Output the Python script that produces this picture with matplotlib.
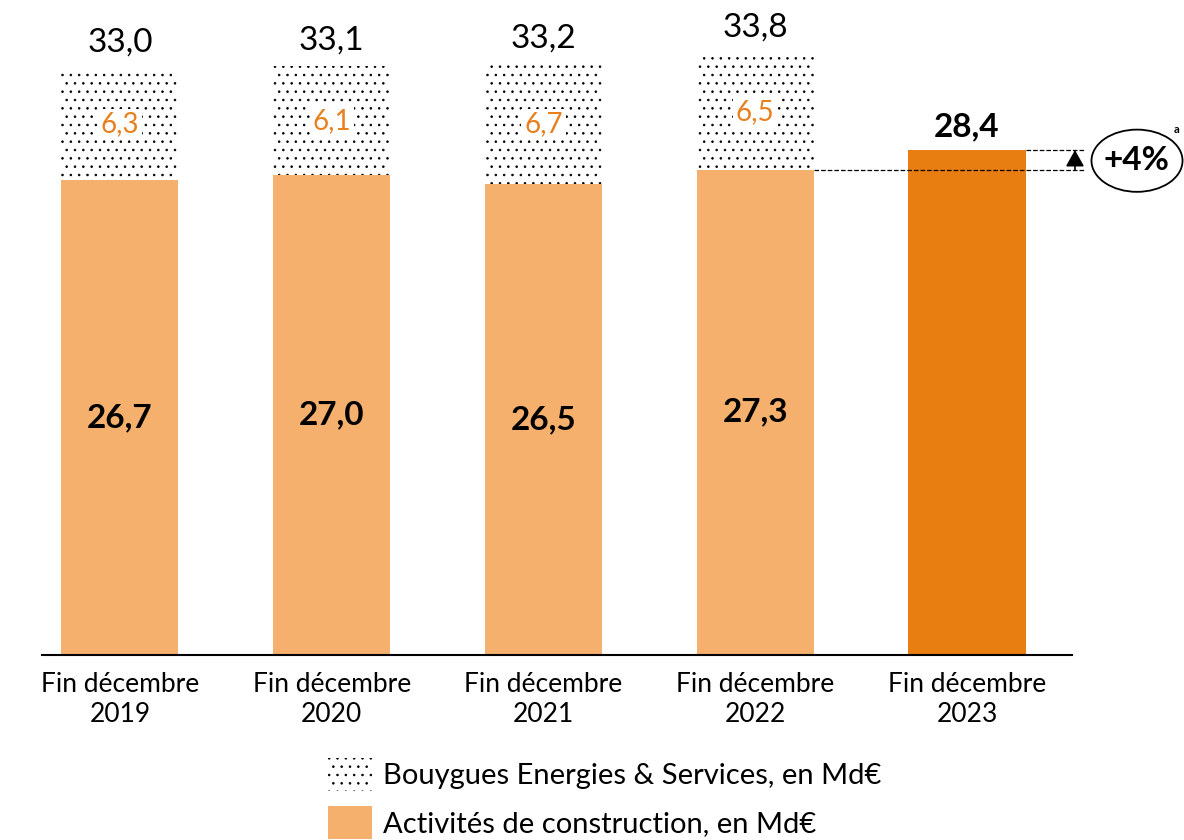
import matplotlib
matplotlib.use("Agg")
import matplotlib.pyplot as plt
from matplotlib.patches import Patch, Ellipse

plt.rcParams['font.family'] = ['Lato', 'DejaVu Sans']
plt.rcParams['hatch.color'] = 'black'
plt.rcParams['hatch.linewidth'] = 0.6

categories = ["Fin décembre\n2019", "Fin décembre\n2020", "Fin décembre\n2021",
              "Fin décembre\n2022", "Fin décembre\n2023"]
construction = [26.7, 27.0, 26.5, 27.3, 28.4]
energies = [6.3, 6.1, 6.7, 6.5, None]
totals = [33.0, 33.1, 33.2, 33.8, None]
growth_label = "+4%"

light_orange = "#F5B06D"
dark_orange = "#E87D12"
text_orange = "#E8801E"

fig = plt.figure(figsize=(11.84, 8.4), dpi=100)
ax = fig.add_axes([42 / 1184, 185 / 840, 1030 / 1184, 655 / 840])

x = list(range(len(categories)))
width = 0.553
colors = [light_orange] * 4 + [dark_orange]
ax.bar(x, construction, width=width, color=colors, linewidth=0)

for i, (c, e, t) in enumerate(zip(construction, energies, totals)):
    if e is None:
        ax.text(i, c + 1.3, f"{c:.1f}".replace(".", ","), ha="center", va="center",
                fontsize=24, fontweight="bold")
        continue
    ax.bar(i, e, bottom=c, width=width, color="white", hatch="..", linewidth=0)
    ax.text(i, c / 2, f"{c:.1f}".replace(".", ","), ha="center", va="center",
            fontsize=24, fontweight="bold")
    ax.text(i, c + e / 2, f"{e:.1f}".replace(".", ","), ha="center", va="center",
            fontsize=20, color=text_orange,
            bbox=dict(facecolor="white", edgecolor="none", pad=2))
    ax.text(i, t + 1.47, f"{t:.1f}".replace(".", ","), ha="center", va="center",
            fontsize=24)

# growth annotation
ax.plot([3 + width / 2, 4.557], [construction[3]] * 2, ls="--", color="black",
        lw=0.9, clip_on=False)
ax.plot([4 + width / 2, 4.557], [construction[4]] * 2, ls="--", color="black",
        lw=0.9, clip_on=False)
ax.annotate("", xy=(4.51, construction[4]), xytext=(4.51, construction[3]),
            arrowprops=dict(arrowstyle="-|>,head_length=0.5,head_width=0.28",
                            color="black", lw=1.2, mutation_scale=20,
                            shrinkA=0, shrinkB=0),
            annotation_clip=False)
ax.add_patch(Ellipse((4.803, 27.8), 0.43, 3.5, facecolor="white", edgecolor="black",
                     lw=1.3, clip_on=False))
ax.text(4.80, 27.8, growth_label, ha="center", va="center", fontsize=24,
        fontweight="bold", clip_on=False)
ax.text(4.99, 29.55, "a", ha="center", va="center", fontsize=8, fontweight="bold",
        clip_on=False)

ax.set_xlim(-0.368, 4.496)
ax.set_ylim(0, 36.84)
ax.set_xticks(x)
ax.set_xticklabels(categories, fontsize=19, linespacing=1.25)
ax.tick_params(axis="x", length=0, pad=12)
ax.set_yticks([])
for side in ["top", "right", "left"]:
    ax.spines[side].set_visible(False)
ax.spines["bottom"].set_linewidth(1.5)

handles = [Patch(facecolor="white", hatch="..", linewidth=0),
           Patch(facecolor=light_orange, linewidth=0)]
labels = ["Bouygues Energies & Services, en Md€", "Activités de construction, en Md€"]
fig.legend(handles, labels, loc="upper left", bbox_to_anchor=(328 / 1184, 1 - 758 / 840),
           frameon=False, fontsize=21, handlelength=1.5, handleheight=1.38,
           handletextpad=0.38, labelspacing=0.5, borderaxespad=0, borderpad=0)

fig.savefig("out.png", dpi=100)
